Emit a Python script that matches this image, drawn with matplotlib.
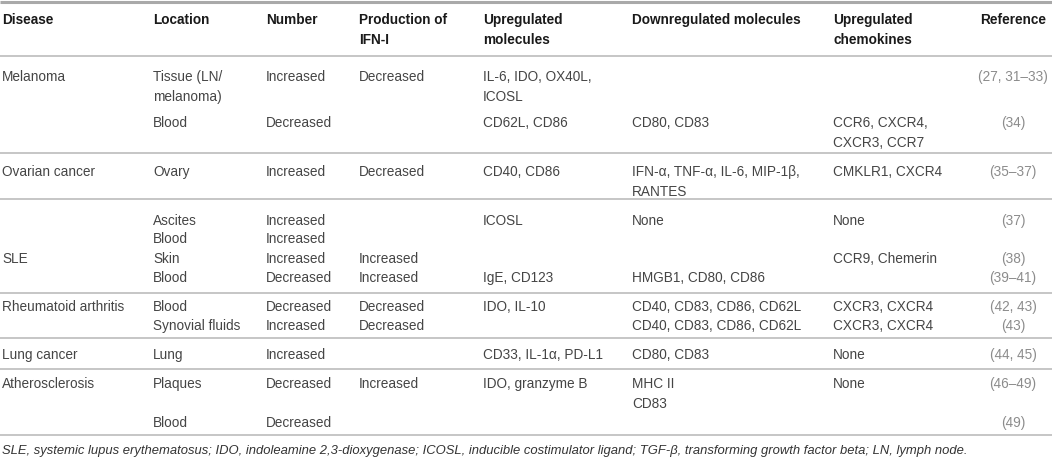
import matplotlib
matplotlib.use("Agg")
import matplotlib.pyplot as plt

plt.rcParams['font.family'] = ['Liberation Sans', 'DejaVu Sans']

# table content, one entry per sub-row
headers = ["Disease", "Location", "Number", "Production of\nIFN-I", "Upregulated\nmolecules",
           "Downregulated molecules", "Upregulated\nchemokines", "Reference"]
disease = ["Melanoma", "", "Ovarian cancer", "", "", "SLE", "", "Rheumatoid arthritis", "",
           "Lung cancer", "Atherosclerosis", ""]
location = ["Tissue (LN/\nmelanoma)", "Blood", "Ovary", "Ascites", "Blood", "Skin", "Blood",
            "Blood", "Synovial fluids", "Lung", "Plaques", "Blood"]
number = ["Increased", "Decreased", "Increased", "Increased", "Increased", "Increased", "Decreased",
          "Decreased", "Increased", "Increased", "Decreased", "Decreased"]
ifn_prod = ["Decreased", "", "Decreased", "", "", "Increased", "Increased",
            "Decreased", "Decreased", "", "Increased", ""]
up_mol = ["IL-6, IDO, OX40L,\nICOSL", "CD62L, CD86", "CD40, CD86", "ICOSL", "", "", "IgE, CD123",
          "IDO, IL-10", "", "CD33, IL-1α, PD-L1", "IDO, granzyme B", ""]
down_mol = ["", "CD80, CD83", "IFN-α, TNF-α, IL-6, MIP-1β,\nRANTES", "None", "", "", "HMGB1, CD80, CD86",
            "CD40, CD83, CD86, CD62L", "CD40, CD83, CD86, CD62L", "CD80, CD83", "MHC II\nCD83", ""]
up_chem = ["", "CCR6, CXCR4,\nCXCR3, CCR7", "CMKLR1, CXCR4", "None", "", "CCR9, Chemerin", "",
           "CXCR3, CXCR4", "CXCR3, CXCR4", "None", "None", ""]
refs = ["(27, 31–33)", "(34)", "(35–37)", "(37)", "", "(38)", "(39–41)",
        "(42, 43)", "(43)", "(44, 45)", "(46–49)", "(49)"]
footnote = ("SLE, systemic lupus erythematosus; IDO, indoleamine 2,3-dioxygenase; ICOSL, inducible "
            "costimulator ligand; TGF-β, transforming growth factor beta; LN, lymph node.")

# layout (pixels)
W, H = 1052, 462
col_x = [2, 153, 266, 359, 483, 632, 833]
ref_x = 1013
row_y = [76, 122, 171, 220, 238, 258, 277, 306, 325, 354, 383, 422]
rule_y = [153, 199, 293, 338, 369, 435]
head_y = 19
line_h = 19.6
fs = 9.8
base = 5

body_c = '#454545'
head_c = '#1a1a1a'
ref_c = '#8c8c8c'
rule_c = '#c6c6c6'

fig = plt.figure(figsize=(W / 100, H / 100), dpi=100)
ax = fig.add_axes([0, 0, 1, 1])
ax.set_xlim(0, W)
ax.set_ylim(H, 0)
ax.axis('off')


def cell(x, y, s, **kw):
    for k, part in enumerate(s.split("\n")):
        if part:
            ax.text(x, y + base + k * line_h, part, va='baseline', fontsize=kw.pop('size', fs), **kw)


# header
for i, h in enumerate(headers[:-1]):
    cell(col_x[i], head_y, h, color=head_c, fontweight='bold')
cell(ref_x, head_y, headers[-1], color=head_c, fontweight='bold', ha='center')

# body
columns = [disease, location, number, ifn_prod, up_mol, down_mol, up_chem]
for j, y in enumerate(row_y):
    for i, col in enumerate(columns):
        cell(col_x[i], y, col[j], color=body_c)
    cell(ref_x, y, refs[j], color=ref_c, ha='center')

# rules
ax.hlines(2, 0, W, color='#a9a9a9', lw=2.2)
ax.hlines(56, 0, W, color=rule_c, lw=1.4)
ax.hlines(rule_y, 0, W, color=rule_c, lw=1.4)

ax.text(2, 449 + base, footnote, va='baseline', fontsize=9.4, style='italic', color='#333333')

fig.savefig("out.png", dpi=100)
